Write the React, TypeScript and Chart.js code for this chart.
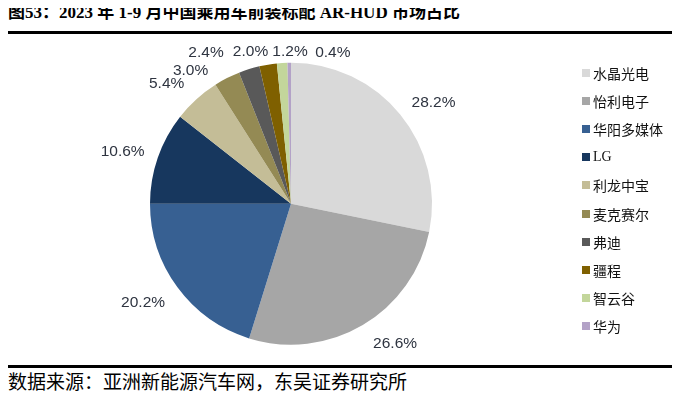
import React, { useEffect, useRef } from "react";
import { Chart, registerables } from "chart.js";

Chart.register(...registerables);

const categories = ["水晶光电", "怡利电子", "华阳多媒体", "LG", "利龙中宝", "麦克赛尔", "弗迪", "疆程", "智云谷", "华为"];
const shares = [28.2, 26.6, 20.2, 10.6, 5.4, 3.0, 2.4, 2.0, 1.2, 0.4];
const colors = ["#D9D9D9", "#A6A6A6", "#376092", "#17375E", "#C4BD97", "#948A54", "#595959", "#7F6000", "#C3D69B", "#B3A2C7"];

const titleText = "图53：2023 年 1-9 月中国乘用车前装标配 AR-HUD 市场占比";
const sourceText = "数据来源：亚洲新能源汽车网，东吴证券研究所";

// label layout adjustments (relative to the default spot outside each slice)
const labelNudge: [number, number][] = [
  [7, 10], [15, -11], [-7, -5], [-3, 5], [-7, 10],
  [-21, 23], [-33, 16], [-12, 21], [10, 23], [44, 24],
];

const labelPlugin = {
  id: "outerLabels",
  afterDatasetsDraw(chart: any) {
    const meta = chart.getDatasetMeta(0);
    const ctx = chart.ctx;
    ctx.save();
    ctx.font = '15.5px "Liberation Sans", Arial, sans-serif';
    ctx.fillStyle = "#2E3440";
    ctx.textAlign = "center";
    ctx.textBaseline = "middle";
    meta.data.forEach((arc: any, i: number) => {
      const p = arc.getProps(["x", "y", "startAngle", "endAngle", "outerRadius"], true);
      const mid = (p.startAngle + p.endAngle) / 2;
      const d = p.outerRadius + 34;
      const lx = p.x + Math.cos(mid) * d + labelNudge[i][0];
      const ly = p.y + Math.sin(mid) * d + labelNudge[i][1];
      ctx.fillText(shares[i].toFixed(1) + "%", lx, ly);
    });
    ctx.restore();
  },
};

export default function App() {
  const ref = useRef<HTMLCanvasElement | null>(null);
  useEffect(() => {
    if (!ref.current) return;
    const chart = new Chart(ref.current, {
      type: "pie",
      data: {
        labels: categories,
        datasets: [{ data: shares, backgroundColor: colors, borderWidth: 0 }],
      },
      options: {
        animation: false,
        responsive: false,
        events: [],
        layout: { padding: { left: 150, right: 248, top: 28.5, bottom: 19 } },
        plugins: { legend: { display: false }, tooltip: { enabled: false } },
      },
      plugins: [labelPlugin],
    });
    return () => chart.destroy();
  }, []);

  return (
    <div style={{ position: "relative", width: 680, height: 401, margin: -8, background: "#fff", overflow: "hidden" }}>
      <div style={{ position: "absolute", left: 8, top: 2, font: 'bold 17px "Liberation Serif", "Noto Sans CJK SC", serif', color: "#000", lineHeight: "22px", whiteSpace: "nowrap" }}>
        {titleText}
      </div>
      <div style={{ position: "absolute", left: 0, top: 31, width: 680, height: 2.5, background: "#000" }} />
      <canvas ref={ref} width={680} height={330} style={{ position: "absolute", left: 0, top: 34, width: 680, height: 330 }} />
      {categories.map((c, i) => (
        <div key={c} style={{ position: "absolute", left: 582, top: 73 + i * 28.1 - 10, height: 20, display: "flex", alignItems: "center", whiteSpace: "nowrap" }}>
          <span style={{ display: "inline-block", width: 8, height: 8, background: colors[i], marginRight: 3 }} />
          <span style={{ font: '14px "Liberation Serif", "Noto Sans CJK SC", serif', color: "#111" }}>{c}</span>
        </div>
      ))}
      <div style={{ position: "absolute", left: 0, top: 365, width: 680, height: 2.5, background: "#000" }} />
      <div style={{ position: "absolute", left: 8, top: 372, font: '19px "Liberation Serif", "Noto Sans CJK SC", serif', color: "#000", lineHeight: "22px", whiteSpace: "nowrap" }}>
        {sourceText}
      </div>
    </div>
  );
}
